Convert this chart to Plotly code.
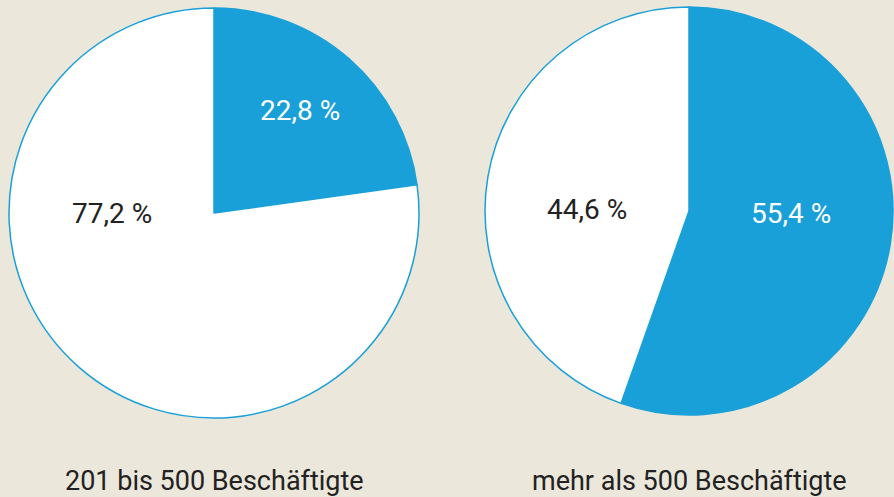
import plotly.graph_objects as go

# Anteile nach Unternehmensgröße
groups = ["201 bis 500 Beschäftigte", "mehr als 500 Beschäftigte"]
slice_names = ["Ja", "Nein"]
left_values = [22.8, 77.2]
right_values = [55.4, 44.6]

BLUE = "#1aa0d9"
WHITE = "#ffffff"
BG = "#ebe7db"
DARK = "#222222"
FONT = "Roboto"

W, H = 894, 497


def px_domain(cx, cy, r):
    """Pie domain in paper units from a pixel centre (from top-left) and radius."""
    return dict(
        x=[(cx - r) / W, (cx + r) / W],
        y=[(H - cy - r) / H, (H - cy + r) / H],
    )


def fmt(v):
    return f"{v:.1f}".replace(".", ",") + " %"


fig = go.Figure()

for vals, dom in [
    (left_values, px_domain(214, 213, 205)),
    (right_values, px_domain(689, 211, 204)),
]:
    fig.add_trace(go.Pie(
        labels=slice_names,
        values=vals,
        sort=False,
        direction="clockwise",
        rotation=0,
        marker=dict(colors=[BLUE, WHITE], line=dict(color=BLUE, width=1.5)),
        textinfo="none",
        hoverinfo="label+percent",
        showlegend=False,
        domain=dom,
    ))

# Value labels (pixel positions -> paper units)
value_labels = [
    (left_values[0], 300, 110, WHITE),
    (left_values[1], 112, 214, DARK),
    (right_values[1], 587, 209, DARK),
    (right_values[0], 791, 213, WHITE),
]
annotations = []
for v, x, y, col in value_labels:
    annotations.append(dict(
        text=fmt(v), x=x / W, y=1 - y / H, xref="paper", yref="paper",
        showarrow=False, xanchor="center", yanchor="middle",
        font=dict(family=FONT, size=28, color=col),
    ))

for name, x in zip(groups, [214, 689]):
    annotations.append(dict(
        text=name, x=x / W, y=1 - 481 / H, xref="paper", yref="paper",
        showarrow=False, xanchor="center", yanchor="middle",
        font=dict(family=FONT, size=27, color=DARK),
    ))

fig.update_layout(
    width=W, height=H,
    margin=dict(l=0, r=0, t=0, b=0),
    paper_bgcolor=BG,
    plot_bgcolor=BG,
    annotations=annotations,
)

fig.write_html("out.html")
